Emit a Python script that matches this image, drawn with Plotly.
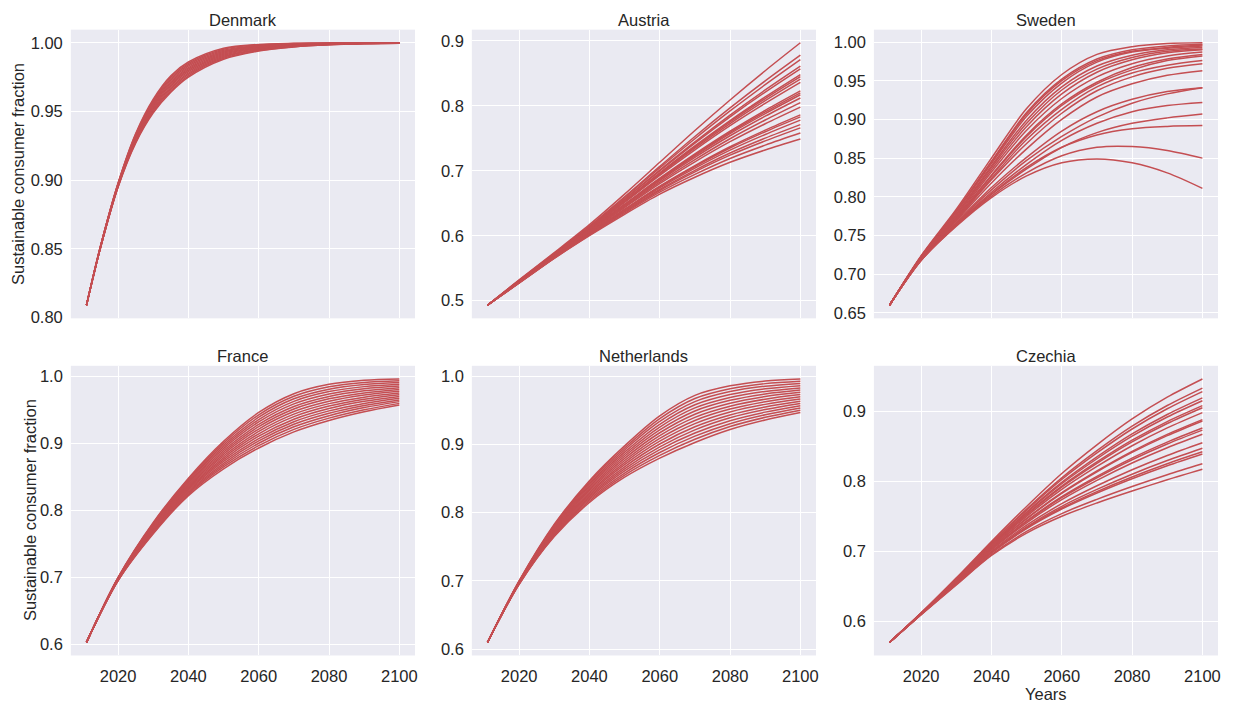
import plotly.graph_objects as go

# ---------------- data ----------------
YEARS_DK = [2011, 2015, 2020, 2025, 2030, 2035, 2040, 2050, 2060, 2070, 2080, 2090, 2100]
YEARS = [2011, 2020, 2030, 2040, 2050, 2060, 2070, 2080, 2090, 2100]
X_TICKS = [2020, 2040, 2060, 2080, 2100]

DENMARK = [
    [0.809, 0.851, 0.8950, 0.9270, 0.9490, 0.9640, 0.9750, 0.9880, 0.9940, 0.9970, 0.9985, 0.9993, 0.9997],
    [0.809, 0.851, 0.8953, 0.9276, 0.9499, 0.9651, 0.9760, 0.9887, 0.9944, 0.9972, 0.9986, 0.9994, 0.9997],
    [0.809, 0.851, 0.8955, 0.9283, 0.9508, 0.9662, 0.9770, 0.9895, 0.9949, 0.9975, 0.9988, 0.9994, 0.9998],
    [0.809, 0.851, 0.8958, 0.9289, 0.9517, 0.9673, 0.9780, 0.9902, 0.9953, 0.9977, 0.9989, 0.9995, 0.9998],
    [0.809, 0.851, 0.8961, 0.9295, 0.9526, 0.9684, 0.9790, 0.9909, 0.9957, 0.9979, 0.9990, 0.9995, 0.9998],
    [0.809, 0.851, 0.8964, 0.9302, 0.9535, 0.9695, 0.9800, 0.9916, 0.9962, 0.9982, 0.9991, 0.9996, 0.9998],
    [0.809, 0.852, 0.8966, 0.9308, 0.9545, 0.9705, 0.9810, 0.9924, 0.9966, 0.9984, 0.9993, 0.9997, 0.9999],
    [0.809, 0.852, 0.8969, 0.9315, 0.9554, 0.9716, 0.9820, 0.9931, 0.9971, 0.9987, 0.9994, 0.9997, 0.9999],
    [0.809, 0.852, 0.8972, 0.9321, 0.9563, 0.9727, 0.9830, 0.9938, 0.9975, 0.9989, 0.9995, 0.9998, 0.9999],
    [0.809, 0.852, 0.8975, 0.9327, 0.9572, 0.9738, 0.9840, 0.9945, 0.9979, 0.9991, 0.9996, 0.9999, 0.9999],
    [0.809, 0.852, 0.8977, 0.9334, 0.9581, 0.9749, 0.9850, 0.9953, 0.9984, 0.9994, 0.9998, 0.9999, 1.0000],
    [0.809, 0.852, 0.8980, 0.9340, 0.9590, 0.9760, 0.9860, 0.9960, 0.9988, 0.9996, 0.9999, 1.0000, 1.0000],
]

AUSTRIA = [
    [0.493, 0.5320, 0.5740, 0.6170, 0.6640, 0.7130, 0.7620, 0.8090, 0.8540, 0.897],
    [0.493, 0.5314, 0.5728, 0.6148, 0.6600, 0.7067, 0.7528, 0.7967, 0.8384, 0.878],
    [0.493, 0.5311, 0.5724, 0.6140, 0.6585, 0.7044, 0.7493, 0.7921, 0.8325, 0.871],
    [0.493, 0.5308, 0.5718, 0.6129, 0.6565, 0.7011, 0.7445, 0.7857, 0.8244, 0.861],
    [0.493, 0.5307, 0.5716, 0.6124, 0.6556, 0.6998, 0.7426, 0.7831, 0.8211, 0.857],
    [0.493, 0.5303, 0.5710, 0.6114, 0.6537, 0.6968, 0.7382, 0.7772, 0.8136, 0.848],
    [0.493, 0.5302, 0.5708, 0.6110, 0.6531, 0.6958, 0.7367, 0.7753, 0.8112, 0.845],
    [0.493, 0.5301, 0.5706, 0.6106, 0.6523, 0.6945, 0.7348, 0.7727, 0.8079, 0.841],
    [0.493, 0.5299, 0.5703, 0.6100, 0.6512, 0.6928, 0.7323, 0.7695, 0.8037, 0.836],
    [0.493, 0.5295, 0.5695, 0.6085, 0.6485, 0.6885, 0.7260, 0.7610, 0.7930, 0.823],
    [0.493, 0.5294, 0.5693, 0.6082, 0.6479, 0.6875, 0.7246, 0.7591, 0.7906, 0.820],
    [0.493, 0.5293, 0.5691, 0.6078, 0.6472, 0.6865, 0.7230, 0.7571, 0.7880, 0.817],
    [0.493, 0.5291, 0.5688, 0.6072, 0.6462, 0.6849, 0.7207, 0.7539, 0.7840, 0.812],
    [0.493, 0.5289, 0.5684, 0.6064, 0.6447, 0.6825, 0.7172, 0.7493, 0.7781, 0.805],
    [0.493, 0.5287, 0.5680, 0.6056, 0.6433, 0.6802, 0.7138, 0.7448, 0.7724, 0.798],
    [0.493, 0.5283, 0.5673, 0.6043, 0.6408, 0.6763, 0.7080, 0.7370, 0.7625, 0.786],
    [0.493, 0.5282, 0.5671, 0.6039, 0.6401, 0.6753, 0.7066, 0.7351, 0.7601, 0.783],
    [0.493, 0.5280, 0.5668, 0.6033, 0.6391, 0.6736, 0.7041, 0.7318, 0.7559, 0.778],
    [0.493, 0.5278, 0.5663, 0.6025, 0.6376, 0.6713, 0.7007, 0.7273, 0.7502, 0.771],
    [0.493, 0.5276, 0.5660, 0.6020, 0.6366, 0.6696, 0.6983, 0.7240, 0.7460, 0.766],
    [0.493, 0.5273, 0.5656, 0.6010, 0.6349, 0.6670, 0.6944, 0.7189, 0.7394, 0.758],
    [0.493, 0.5270, 0.5650, 0.6000, 0.6330, 0.6640, 0.6900, 0.7130, 0.7320, 0.749],
]

SWEDEN = [
    [0.660, 0.724, 0.784, 0.850, 0.914, 0.958, 0.984, 0.994, 0.998, 0.999],
    [0.660, 0.723, 0.782, 0.846, 0.909, 0.952, 0.978, 0.990, 0.995, 0.997],
    [0.660, 0.723, 0.781, 0.845, 0.907, 0.950, 0.976, 0.988, 0.993, 0.996],
    [0.660, 0.723, 0.780, 0.843, 0.904, 0.947, 0.974, 0.987, 0.992, 0.995],
    [0.660, 0.722, 0.778, 0.840, 0.899, 0.942, 0.969, 0.983, 0.990, 0.993],
    [0.660, 0.722, 0.777, 0.838, 0.895, 0.938, 0.965, 0.980, 0.988, 0.991],
    [0.660, 0.722, 0.776, 0.835, 0.891, 0.933, 0.961, 0.977, 0.986, 0.990],
    [0.660, 0.721, 0.774, 0.832, 0.886, 0.927, 0.955, 0.972, 0.982, 0.987],
    [0.660, 0.721, 0.773, 0.828, 0.880, 0.920, 0.948, 0.967, 0.978, 0.984],
    [0.660, 0.721, 0.772, 0.827, 0.878, 0.918, 0.946, 0.964, 0.976, 0.982],
    [0.660, 0.720, 0.771, 0.824, 0.874, 0.913, 0.942, 0.960, 0.970, 0.976],
    [0.660, 0.720, 0.770, 0.822, 0.869, 0.908, 0.937, 0.955, 0.966, 0.972],
    [0.660, 0.720, 0.769, 0.818, 0.862, 0.900, 0.929, 0.946, 0.957, 0.963],
    [0.660, 0.719, 0.767, 0.812, 0.851, 0.885, 0.910, 0.926, 0.936, 0.941],
    [0.660, 0.719, 0.766, 0.809, 0.847, 0.878, 0.903, 0.921, 0.933, 0.941],
    [0.660, 0.719, 0.765, 0.806, 0.842, 0.873, 0.895, 0.910, 0.918, 0.922],
    [0.660, 0.718, 0.764, 0.803, 0.836, 0.864, 0.883, 0.895, 0.902, 0.907],
    [0.660, 0.718, 0.764, 0.804, 0.838, 0.864, 0.880, 0.888, 0.891, 0.892],
    [0.660, 0.718, 0.763, 0.801, 0.831, 0.853, 0.864, 0.865, 0.860, 0.850],
    [0.660, 0.718, 0.762, 0.799, 0.827, 0.844, 0.849, 0.844, 0.831, 0.811],
]

# France and Netherlands: one row per year in YEARS, one column per run
FRANCE_BY_YEAR = [
    [0.603] * 16,
    [0.700, 0.6997, 0.6994, 0.699, 0.6987, 0.6983, 0.698, 0.6977, 0.6973, 0.697, 0.6967, 0.6963, 0.696, 0.6957, 0.6953, 0.695],
    [0.782, 0.7809, 0.7797, 0.7786, 0.7775, 0.7763, 0.7752, 0.7741, 0.7729, 0.7718, 0.7707, 0.7695, 0.7684, 0.7673, 0.7661, 0.765],
    [0.848, 0.8463, 0.8445, 0.8428, 0.8411, 0.8393, 0.8376, 0.8359, 0.8341, 0.8324, 0.8307, 0.8289, 0.8272, 0.8255, 0.8237, 0.822],
    [0.903, 0.9003, 0.8975, 0.8948, 0.8921, 0.8893, 0.8866, 0.8839, 0.8811, 0.8784, 0.8757, 0.8729, 0.8702, 0.8675, 0.8647, 0.862],
    [0.946, 0.9425, 0.9389, 0.9354, 0.9319, 0.9283, 0.9248, 0.9213, 0.9177, 0.9142, 0.9107, 0.9071, 0.9036, 0.9001, 0.8965, 0.893],
    [0.974, 0.9702, 0.9664, 0.9626, 0.9588, 0.955, 0.9512, 0.9474, 0.9436, 0.9398, 0.936, 0.9322, 0.9284, 0.9246, 0.9208, 0.917],
    [0.988, 0.9844, 0.9808, 0.9772, 0.9736, 0.970, 0.9664, 0.9628, 0.9592, 0.9556, 0.952, 0.9484, 0.9448, 0.9412, 0.9376, 0.934],
    [0.994, 0.9909, 0.9877, 0.9846, 0.9815, 0.9783, 0.9752, 0.9721, 0.9689, 0.9658, 0.9627, 0.9595, 0.9564, 0.9533, 0.9501, 0.947],
    [0.996, 0.9934, 0.9908, 0.9882, 0.9856, 0.983, 0.9804, 0.9778, 0.9752, 0.9726, 0.970, 0.9674, 0.9648, 0.9622, 0.9596, 0.957],
]

NETHERLANDS_BY_YEAR = [
    [0.610] * 16,
    [0.700, 0.6997, 0.6993, 0.699, 0.6987, 0.6983, 0.698, 0.6977, 0.6973, 0.697, 0.6967, 0.6963, 0.696, 0.6957, 0.6953, 0.695],
    [0.783, 0.7818, 0.7806, 0.7794, 0.7782, 0.777, 0.7758, 0.7746, 0.7734, 0.7722, 0.771, 0.7698, 0.7686, 0.7674, 0.7662, 0.765],
    [0.847, 0.8449, 0.8427, 0.8406, 0.8385, 0.8363, 0.8342, 0.8321, 0.8299, 0.8278, 0.8257, 0.8235, 0.8214, 0.8193, 0.8171, 0.815],
    [0.898, 0.8949, 0.8919, 0.8888, 0.8857, 0.8827, 0.8796, 0.8765, 0.8735, 0.8704, 0.8673, 0.8643, 0.8612, 0.8581, 0.8551, 0.852],
    [0.942, 0.9379, 0.9337, 0.9296, 0.9255, 0.9213, 0.9172, 0.9131, 0.9089, 0.9048, 0.9007, 0.8965, 0.8924, 0.8883, 0.8841, 0.880],
    [0.972, 0.9674, 0.9628, 0.9582, 0.9536, 0.949, 0.9444, 0.9398, 0.9352, 0.9306, 0.926, 0.9214, 0.9168, 0.9122, 0.9076, 0.903],
    [0.986, 0.9817, 0.9775, 0.9732, 0.9689, 0.9647, 0.9604, 0.9561, 0.9519, 0.9476, 0.9433, 0.9391, 0.9348, 0.9305, 0.9263, 0.922],
    [0.993, 0.9892, 0.9854, 0.9816, 0.9778, 0.974, 0.9702, 0.9664, 0.9626, 0.9588, 0.955, 0.9512, 0.9474, 0.9436, 0.9398, 0.936],
    [0.996, 0.9927, 0.9895, 0.9862, 0.9829, 0.9797, 0.9764, 0.9731, 0.9699, 0.9666, 0.9633, 0.9601, 0.9568, 0.9535, 0.9503, 0.947],
]

CZECHIA = [
    [0.570, 0.6120, 0.6620, 0.7140, 0.7640, 0.8110, 0.8520, 0.8890, 0.9200, 0.946],
    [0.570, 0.6117, 0.6610, 0.7120, 0.7602, 0.8048, 0.8436, 0.8786, 0.9081, 0.933],
    [0.570, 0.6117, 0.6606, 0.7112, 0.7587, 0.8025, 0.8404, 0.8746, 0.9035, 0.928],
    [0.570, 0.6115, 0.6599, 0.7098, 0.7561, 0.7983, 0.8347, 0.8675, 0.8953, 0.919],
    [0.570, 0.6114, 0.6596, 0.7092, 0.7549, 0.7964, 0.8321, 0.8643, 0.8917, 0.915],
    [0.570, 0.6113, 0.6591, 0.7081, 0.7528, 0.7930, 0.8275, 0.8586, 0.8852, 0.908],
    [0.570, 0.6112, 0.6588, 0.7076, 0.7519, 0.7916, 0.8256, 0.8562, 0.8825, 0.905],
    [0.570, 0.6111, 0.6583, 0.7066, 0.7499, 0.7883, 0.8211, 0.8507, 0.8761, 0.898],
    [0.570, 0.6109, 0.6575, 0.7050, 0.7469, 0.7836, 0.8147, 0.8427, 0.8669, 0.888],
    [0.570, 0.6108, 0.6574, 0.7047, 0.7463, 0.7826, 0.8134, 0.8411, 0.8651, 0.886],
    [0.570, 0.6106, 0.6566, 0.7031, 0.7434, 0.7779, 0.8069, 0.8331, 0.8559, 0.876],
    [0.570, 0.6106, 0.6563, 0.7027, 0.7425, 0.7765, 0.8050, 0.8307, 0.8532, 0.873],
    [0.570, 0.6105, 0.6559, 0.7018, 0.7407, 0.7737, 0.8012, 0.8260, 0.8478, 0.867],
    [0.570, 0.6102, 0.6550, 0.6999, 0.7372, 0.7680, 0.7935, 0.8164, 0.8368, 0.855],
    [0.570, 0.6101, 0.6543, 0.6987, 0.7349, 0.7642, 0.7883, 0.8100, 0.8295, 0.847],
    [0.570, 0.6100, 0.6539, 0.6979, 0.7334, 0.7618, 0.7851, 0.8060, 0.8249, 0.842],
    [0.570, 0.6099, 0.6537, 0.6974, 0.7325, 0.7604, 0.7832, 0.8036, 0.8222, 0.839],
    [0.570, 0.6097, 0.6526, 0.6952, 0.7284, 0.7538, 0.7741, 0.7924, 0.8093, 0.825],
    [0.570, 0.6095, 0.6520, 0.6940, 0.7260, 0.7500, 0.7690, 0.7860, 0.8020, 0.817],
]

FRANCE = [list(r) for r in zip(*FRANCE_BY_YEAR)]
NETHERLANDS = [list(r) for r in zip(*NETHERLANDS_BY_YEAR)]

PANELS = [
    ("Denmark", YEARS_DK, DENMARK, 0.80, 0.05, ".2f"),
    ("Austria", YEARS, AUSTRIA, 0.5, 0.1, ".1f"),
    ("Sweden", YEARS, SWEDEN, 0.65, 0.05, ".2f"),
    ("France", YEARS, FRANCE, 0.6, 0.1, ".1f"),
    ("Netherlands", YEARS, NETHERLANDS, 0.6, 0.1, ".1f"),
    ("Czechia", YEARS, CZECHIA, 0.6, 0.1, ".1f"),
]

# ---------------- layout ----------------
W, H = 1236, 707
COLS_PX = [(71, 416), (473, 818), (876, 1221)]
ROWS_PX = [(30, 322), (370, 663)]
RED = "#C44E52"
TXT = "#262626"
FONT = "Liberation Sans, Arial, DejaVu Sans, sans-serif"

fig = go.Figure()
annotations = []
layout = {}

for i, (name, years, runs, tick0, dtick, fmt) in enumerate(PANELS):
    r, c = divmod(i, 3)
    n = i + 1
    xa = "x" if n == 1 else f"x{n}"
    ya = "y" if n == 1 else f"y{n}"
    for run in runs:
        fig.add_trace(go.Scatter(
            x=years, y=run, mode="lines", xaxis=xa, yaxis=ya,
            line=dict(color=RED, width=1.5, shape="spline", smoothing=0.9),
            showlegend=False, hoverinfo="skip",
        ))
    x0, x1 = COLS_PX[c]
    yt, yb = ROWS_PX[r]
    xdom = [x0 / W, x1 / W]
    ydom = [1 - yb / H, 1 - yt / H]
    xs_min, xs_max = min(years), max(years)
    xpad = 0.05 * (xs_max - xs_min)
    vals = [v for run in runs for v in run]
    vmin, vmax = min(vals), max(vals)
    ypad = 0.05 * (vmax - vmin)
    layout["xaxis" if n == 1 else f"xaxis{n}"] = dict(
        domain=xdom, anchor=ya, range=[xs_min - xpad, xs_max + xpad],
        tickvals=X_TICKS, showticklabels=(r == 1),
        showgrid=True, gridcolor="white", gridwidth=1.3,
        zeroline=False, showline=False, ticks="",
        tickfont=dict(size=16.5, color=TXT, family=FONT),
        ticklabelstandoff=9,
    )
    layout["yaxis" if n == 1 else f"yaxis{n}"] = dict(
        domain=ydom, anchor=xa, range=[vmin - ypad, vmax + ypad],
        tick0=tick0, dtick=dtick, tickformat=fmt,
        showgrid=True, gridcolor="white", gridwidth=1.3,
        zeroline=False, showline=False, ticks="",
        tickfont=dict(size=16.5, color=TXT, family=FONT),
        ticklabelstandoff=7,
    )
    annotations.append(dict(
        text=name, xref="paper", yref="paper",
        x=(xdom[0] + xdom[1]) / 2, y=ydom[1], xanchor="center", yanchor="bottom",
        yshift=-1, showarrow=False, font=dict(size=16.5, color=TXT, family=FONT),
    ))

# y-axis labels and x-axis label
annotations.append(dict(
    text="Sustainable consumer fraction", xref="paper", yref="paper",
    x=18 / W, y=1 - 176 / H, textangle=-90, xanchor="center", yanchor="middle",
    showarrow=False, font=dict(size=16.5, color=TXT, family=FONT),
))
annotations.append(dict(
    text="Sustainable consumer fraction", xref="paper", yref="paper",
    x=30 / W, y=1 - 516 / H, textangle=-90, xanchor="center", yanchor="middle",
    showarrow=False, font=dict(size=16.5, color=TXT, family=FONT),
))
annotations.append(dict(
    text="Years", xref="paper", yref="paper",
    x=(876 + 1221) / 2 / W, y=1 - 702 / H, xanchor="center", yanchor="middle",
    showarrow=False, font=dict(size=16.5, color=TXT, family=FONT),
))

fig.update_layout(
    width=W, height=H, margin=dict(l=0, r=0, t=0, b=0),
    paper_bgcolor="white", plot_bgcolor="#EAEAF2",
    font=dict(family=FONT, color=TXT), annotations=annotations,
    showlegend=False, **layout,
)

fig.write_html("out.html")
